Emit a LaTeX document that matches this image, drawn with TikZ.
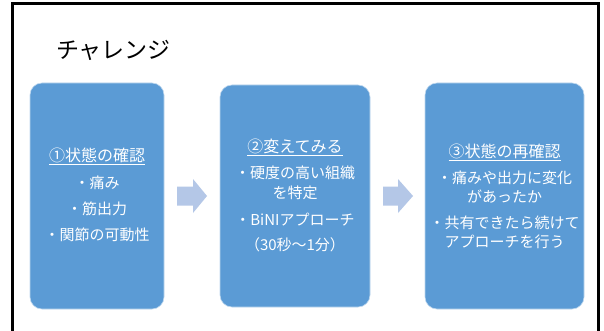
\documentclass[tikz,border=0pt]{standalone}
\usepackage{fontspec}
\newfontfamily\jp{Noto Sans CJK JP}
\definecolor{boxblue}{HTML}{5B9BD5}
\definecolor{arrowblue}{HTML}{B4C7E7}
\tikzset{
  stepbox/.style={rounded corners=12pt, fill=boxblue, draw=white!60!boxblue, line width=0.6pt, inner sep=0pt},
  boxtext/.style={text=white, font=\jp\fontsize{15}{16}\selectfont, inner sep=0pt, anchor=center},
  headtext/.style={text=white, font=\jp\fontsize{16}{17}\selectfont, inner sep=0pt, anchor=center},
  arrowfill/.style={fill=arrowblue}
}
\begin{document}
\begin{tikzpicture}[x=1pt,y=-1pt]
\useasboundingbox (0,0) rectangle (604,331);
\fill[white] (0,0) rectangle (604,331);
% frame
\draw[line width=3pt] (12.5,340) -- (12.5,4) -- (598.5,4) -- (598.5,340);
% title
\node[font=\jp\fontsize{23}{25}\selectfont, inner sep=0pt, anchor=west] (title) at (56,50) {チャレンジ};
% boxes
\node[stepbox, minimum width=134pt, minimum height=226pt] (b1) at (97,196) {};
\node[stepbox, minimum width=150pt, minimum height=222pt] (b2) at (295,196) {};
\node[stepbox, minimum width=159pt, minimum height=226pt] (b3) at (504.5,196) {};
% box 1 text
\node[headtext] (t1h) at (97,156) {\underline{①状態の確認}};
\node[boxtext] (t1a) at (97,183) {・痛み};
\node[boxtext] (t1b) at (97,209) {・筋出力};
\node[boxtext] (t1c) at (97,235) {・関節の可動性};
% box 2 text
\node[headtext] (t2h) at (295,147) {\underline{②変えてみる}};
\node[boxtext] (t2a) at (295,173) {・硬度の高い組織};
\node[boxtext] (t2b) at (295,193) {を特定};
\node[boxtext] (t2c) at (295,220) {・BiNIアプローチ};
\node[boxtext] (t2d) at (295,245) {（30秒～1分）};
% box 3 text
\node[headtext] (t3h) at (504.5,152) {\underline{③状態の再確認}};
\node[boxtext] (t3a) at (504.5,178) {・痛みや出力に変化};
\node[boxtext] (t3b) at (504.5,197) {があったか};
\node[boxtext] (t3c) at (504.5,223) {・共有できたら続けて};
\node[boxtext] (t3d) at (504.5,242) {アプローチを行う};
% arrows
\coordinate (a1) at (177,196);
\coordinate (a2) at (383,196);
\fill[arrowfill] (a1) ++(0,-9.5) -- ++(16,0) -- ++(0,-7.5) -- ++(14,17) -- ++(-14,17) -- ++(0,-7.5) -- ++(-16,0) -- cycle;
\fill[arrowfill] (a2) ++(0,-9.5) -- ++(15,0) -- ++(0,-7.5) -- ++(15,17) -- ++(-15,17) -- ++(0,-7.5) -- ++(-15,0) -- cycle;
\end{tikzpicture}
\end{document}
